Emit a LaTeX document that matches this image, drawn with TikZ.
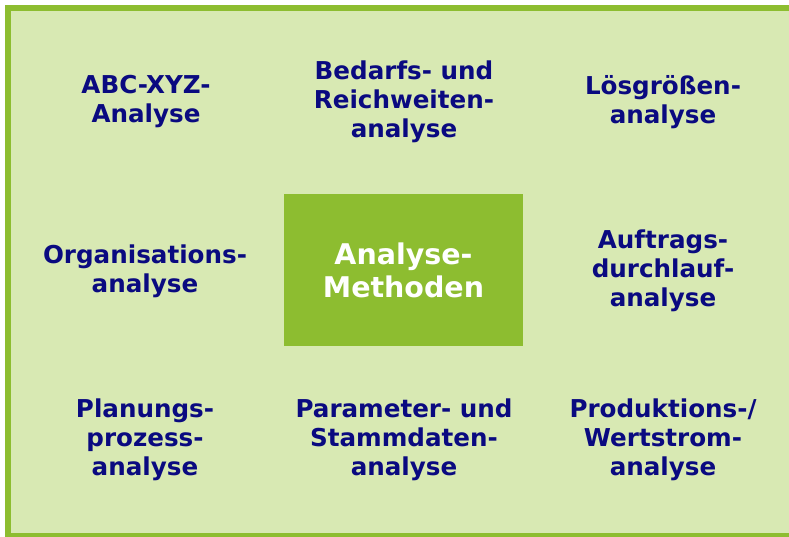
\documentclass[tikz,border=0pt]{standalone}
\usepackage{fontspec}
\setmainfont{DejaVu Sans}
\definecolor{bordergreen}{HTML}{8DBD30}
\definecolor{lightfill}{HTML}{D8E9B3}
\definecolor{navy}{HTML}{0A0A80}
\begin{document}
\begin{tikzpicture}[x=1pt,y=-1pt,
  item/.style={text=navy,align=center,font=\fontsize{24.6}{29}\selectfont\bfseries,inner sep=0pt},
  core/.style={fill=bordergreen,text=white,align=center,font=\fontsize{28.5}{33}\selectfont\bfseries,inner sep=0pt}]
\useasboundingbox (0,0) rectangle (789,537);
\fill[white] (0,0) rectangle (789,537);
\fill[bordergreen] (5,5) rectangle (789,537);
\fill[lightfill] (11,11) rectangle (789,533);
\node[core,minimum width=239pt,minimum height=152pt] (m) at (403.5,270) {Analyse-\\Methoden};
\node[item] (a1) at (146,102) {ABC-XYZ-\\Analyse};
\node[item] (a2) at (404,102) {Bedarfs- und\\Reichweiten-\\analyse};
\node[item] (a3) at (663,102) {Lösgrößen-\\analyse};
\node[item] (a4) at (145,271) {Organisations-\\analyse};
\node[item] (a5) at (663,271) {Auftrags-\\durchlauf-\\analyse};
\node[item] (a6) at (145,440) {Planungs-\\prozess-\\analyse};
\node[item] (a7) at (404,440) {Parameter- und\\Stammdaten-\\analyse};
\node[item] (a8) at (663,440) {Produktions-/\\Wertstrom-\\analyse};
\end{tikzpicture}
\end{document}
